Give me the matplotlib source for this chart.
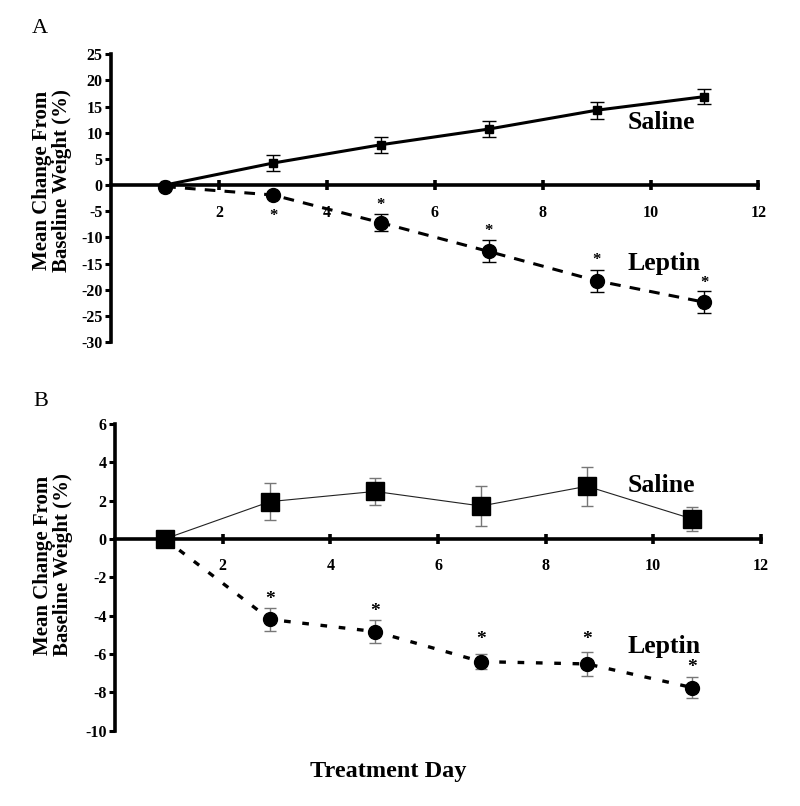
import matplotlib
matplotlib.use("Agg")
import matplotlib.pyplot as plt

plt.rcParams["font.family"] = ["Liberation Serif", "DejaVu Serif"]
plt.rcParams["font.weight"] = "bold"
plt.rcParams["axes.unicode_minus"] = False

# ── Data ──────────────────────────────────────────────────────────────────────

# Panel A
days_a = [1, 3, 5, 7, 9, 11]
saline_a = [0.0, 4.2, 7.7, 10.7, 14.3, 16.9]
saline_a_err = [0.0, 1.6, 1.5, 1.5, 1.6, 1.4]
leptin_a = [-0.3, -1.9, -7.2, -12.7, -18.3, -22.4]
leptin_a_err = [0.0, 0.0, 1.6, 2.1, 2.1, 2.1]
star_a_days = [3, 5, 7, 9, 11]
star_a_y = [-5.9, -3.8, -8.8, -14.4, -18.7]

# Panel B
days_b = [0.92, 2.88, 4.83, 6.8, 8.77, 10.72]
saline_b = [0.0, 1.95, 2.48, 1.72, 2.75, 1.05]
saline_b_err = [0.0, 0.95, 0.7, 1.03, 1.03, 0.63]
leptin_b = [0.0, -4.2, -4.83, -6.4, -6.52, -7.75]
leptin_b_err = [0.0, 0.58, 0.58, 0.38, 0.62, 0.56]
star_b_days = [2.88, 4.83, 6.8, 8.77, 10.72]
star_b_y = [-3.15, -3.8, -5.25, -5.25, -6.7]

x_ticks = [2, 4, 6, 8, 10, 12]
ticks_a = list(range(-30, 26, 5))
ticks_b = list(range(-10, 7, 2))

ylabel = "Mean Change From\nBaseline Weight (%)"


def style_axis(ax, yticks, pad):
    ax.set_xlim(0, 12)
    ax.set_ylim(yticks[0], yticks[-1])
    for side in ("top", "right"):
        ax.spines[side].set_visible(False)
    ax.spines["bottom"].set_position(("data", 0))
    ax.spines["bottom"].set_linewidth(2.6)
    ax.spines["left"].set_linewidth(2.6)
    ax.set_xticks(x_ticks)
    ax.set_yticks(yticks)
    ax.tick_params(axis="x", direction="inout", length=7, width=2.6,
                   pad=pad, labelsize=11.5)
    ax.tick_params(axis="y", direction="out", length=4, width=2.2,
                   pad=2, labelsize=11.5)
    for lbl in ax.get_xticklabels() + ax.get_yticklabels():
        lbl.set_fontweight("bold")


fig = plt.figure(figsize=(8.0, 8.06), dpi=100)

# ── Panel A ───────────────────────────────────────────────────────────────────
ax1 = fig.add_axes([0.139, 0.5757, 0.809, 0.357])
ax1.errorbar(days_a, saline_a, yerr=saline_a_err, color="black", lw=2.2,
             marker="s", ms=5.5, capsize=5, elinewidth=1.0, capthick=1.0)
ax1.errorbar(days_a, leptin_a, yerr=leptin_a_err, color="black", lw=2.2,
             ls=(0, (3.5, 3)), marker="o", ms=10, capsize=5,
             elinewidth=1.0, capthick=1.0)
for d, y in zip(star_a_days, star_a_y):
    ax1.text(d, y, "*", ha="center", va="center", fontsize=12,
             fontweight="bold")
ax1.text(9.57, 12.0, "Saline", fontsize=18.5, fontweight="bold",
         va="center")
ax1.text(9.57, -15.0, "Leptin", fontsize=18.5, fontweight="bold",
         va="center")
style_axis(ax1, ticks_a, 11)
ax1.set_ylabel(ylabel, fontsize=15, fontweight="bold", linespacing=1.0)
ax1.yaxis.set_label_coords(-0.06, 0.56)

# ── Panel B ───────────────────────────────────────────────────────────────────
ax2 = fig.add_axes([0.144, 0.0935, 0.807, 0.3805])
ax2.errorbar(days_b, saline_b, yerr=saline_b_err, color="#222222", lw=0.8,
             marker="s", ms=13, mfc="black", mec="black", capsize=4,
             ecolor="#777777", elinewidth=1.0, capthick=1.0)
ax2.errorbar(days_b, leptin_b, yerr=leptin_b_err, color="black", lw=2.4,
             ls=(0, (2, 3.5)), marker="o", ms=10, capsize=4,
             ecolor="#777777", elinewidth=1.0, capthick=1.0)
for d, y in zip(star_b_days, star_b_y):
    ax2.text(d, y, "*", ha="center", va="center", fontsize=14,
             fontweight="bold")
ax2.text(9.52, 2.8, "Saline", fontsize=18.5, fontweight="bold",
         va="center")
ax2.text(9.52, -5.6, "Leptin", fontsize=18.5, fontweight="bold",
         va="center")
style_axis(ax2, ticks_b, 10)
ax2.set_ylabel(ylabel, fontsize=15, fontweight="bold", linespacing=1.0)
ax2.yaxis.set_label_coords(-0.065, 0.54)

fig.text(0.04, 0.965, "A", fontsize=16, fontweight="normal", va="center")
fig.text(0.042, 0.502, "B", fontsize=16, fontweight="normal", va="center")
fig.text(0.485, 0.043, "Treatment Day", fontsize=17.5, fontweight="bold",
         ha="center", va="center")

fig.savefig("out.png", dpi=100)
